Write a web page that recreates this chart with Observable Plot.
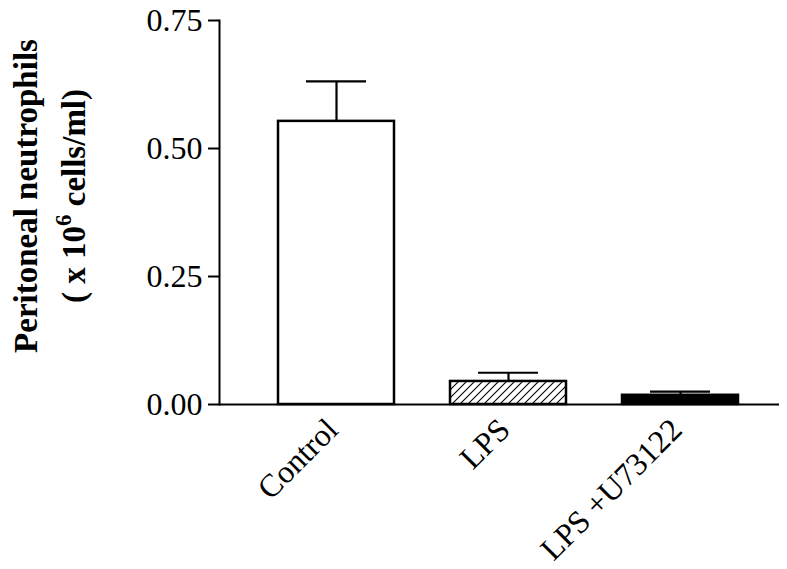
<!DOCTYPE html>
<html>
<head>
<meta charset="utf-8">
<script src="https://cdn.jsdelivr.net/npm/d3@7"></script>
<script src="https://cdn.jsdelivr.net/npm/@observablehq/plot@0.6"></script>
<style>
  html, body { margin: 0; padding: 0; background: white; }
  #chart svg { font-family: "Liberation Serif", "Times New Roman", serif; }
</style>
</head>
<body>
<div id="chart"></div>
<script>
const categories = ["Control", "LPS", "LPS +U73122"];
const means = [0.553, 0.045, 0.018];
const errors = [0.078, 0.017, 0.007];
const fills = ["white", "url(#hatch)", "black"];
const yTicks = [0, 0.25, 0.5, 0.75];
const yLabelLines = ["Peritoneal neutrophils", "( x 10", "6", " cells/ml)"];

const data = categories.map((c, i) => ({cat: c, mean: means[i], err: errors[i], top: means[i] + errors[i], fill: fills[i]}));

const chart = Plot.plot({
  width: 787,
  height: 569,
  marginLeft: 219,
  marginRight: 8,
  marginTop: 20,
  marginBottom: 165,
  style: {fontFamily: "Liberation Serif, Times New Roman, serif", color: "black", background: "white"},
  x: {domain: categories, range: [219, 796], paddingInner: 0.328, paddingOuter: 0.336, align: 0.5},
  y: {domain: [0, 0.75]},
  marks: [
    Plot.ruleX(data, {x: "cat", y1: "mean", y2: "top", stroke: "black", strokeWidth: 2.2}),
    Plot.tickY(data, {x: "cat", y: "top", stroke: "black", strokeWidth: 2.2, insetLeft: 28, insetRight: 28}),
    Plot.barY(data, {x: "cat", y: "mean", fill: "fill", stroke: "black", strokeWidth: 2.5}),
    Plot.ruleY([0], {stroke: "black", strokeWidth: 2}),
    Plot.frame({anchor: "left", stroke: "black", strokeWidth: 2}),
    Plot.axisY({ticks: yTicks, tickFormat: d3.format(".2f"), tickSize: 11, tickPadding: 6, fontSize: 32, strokeWidth: 2, label: null}),
    Plot.axisX({tickRotate: -45, tickSize: 0, tickPadding: 20, dx: -4, fontSize: 32, label: null})
  ]
});

const svg = d3.select(chart);
const defs = svg.insert("defs", ":first-child");
const pat = defs.append("pattern").attr("id", "hatch").attr("patternUnits", "userSpaceOnUse")
  .attr("width", 8).attr("height", 8);
pat.append("rect").attr("width", 8).attr("height", 8).attr("fill", "white");
pat.append("path").attr("d", "M0,8 L8,0 M-2,2 L2,-2 M6,10 L10,6").attr("stroke", "black").attr("stroke-width", 1.1);

const yScale = chart.scale("y");
const cy = (yScale.range[0] + yScale.range[1]) / 2 - 16;
const lab = svg.append("g").attr("font-family", "Liberation Serif, Times New Roman, serif")
  .attr("font-weight", "bold").attr("font-size", 33).attr("fill", "black").attr("text-anchor", "middle");
lab.append("text").attr("transform", `translate(37,${cy}) rotate(-90)`).text(yLabelLines[0]);
const t2 = lab.append("text").attr("transform", `translate(85,${cy}) rotate(-90)`);
t2.append("tspan").text(yLabelLines[1]);
t2.append("tspan").attr("font-size", 23).attr("dy", -14).text(yLabelLines[2]);
t2.append("tspan").attr("dy", 14).text(yLabelLines[3]);

document.getElementById("chart").appendChild(chart);
</script>
</body>
</html>
